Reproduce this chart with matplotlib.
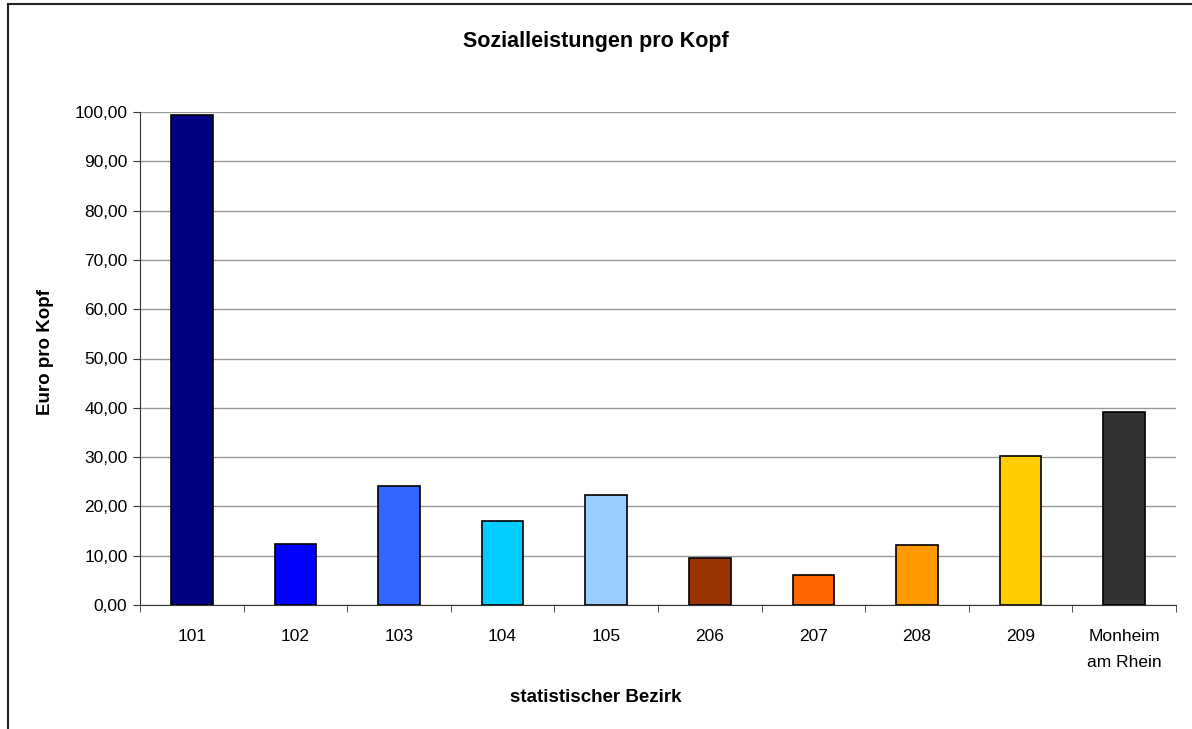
import matplotlib.pyplot as plt
from matplotlib.lines import Line2D
from matplotlib.ticker import FuncFormatter, FixedLocator

plt.rcParams["font.family"] = ["Liberation Sans", "DejaVu Sans"]

bezirke = ["101", "102", "103", "104", "105", "206", "207", "208", "209", "Monheim\nam Rhein"]
werte = [99.3, 12.4, 24.2, 17.0, 22.3, 9.5, 6.0, 12.1, 30.2, 39.1]
farben = ["#000080", "#0000FF", "#3366FF", "#00CCFF", "#99CCFF",
          "#993300", "#FF6600", "#FF9900", "#FFCC00", "#333333"]

fig = plt.figure(figsize=(11.92, 7.29), dpi=100)
ax = fig.add_axes([140 / 1192, 1 - 605 / 729, 1036 / 1192, 493 / 729])

x = range(len(bezirke))
ax.bar(x, werte, width=0.4, color=farben, edgecolor="black", linewidth=1.2, zorder=3)

ax.set_xlim(-0.5, len(bezirke) - 0.5)
ax.set_ylim(0, 100)
ax.set_yticks(range(0, 101, 10))
ax.yaxis.set_major_formatter(FuncFormatter(lambda v, p: f"{v:.2f}".replace(".", ",")))
ax.yaxis.grid(True, color="#999999", linewidth=1, zorder=0)

ax.set_xticks(list(x))
ax.set_xticklabels(bezirke, fontsize=12.5, linespacing=1.95)
ax.tick_params(axis="x", length=0, pad=17)
ax.xaxis.set_minor_locator(FixedLocator([i + 0.5 for i in range(-1, len(bezirke))]))
ax.tick_params(axis="x", which="minor", length=5, direction="out", color="#333333")
ax.tick_params(axis="y", labelsize=12.5, length=5, direction="out", color="#333333", pad=4)

for side in ["top", "right"]:
    ax.spines[side].set_visible(False)
ax.spines["left"].set_color("#333333")
ax.spines["bottom"].set_color("#333333")

fig.text(0.5, 1 - 42 / 729, "Sozialleistungen pro Kopf", ha="center", va="center",
         fontsize=15.5, fontweight="bold")
fig.text(0.5, 1 - 697 / 729, "statistischer Bezirk", ha="center", va="center",
         fontsize=13.5, fontweight="bold")
fig.text(46 / 1192, 1 - 352 / 729, "Euro pro Kopf", ha="center", va="center",
         rotation=90, fontsize=13.5, fontweight="bold")

# Rahmen (nur links und oben sichtbar)
fig.lines.append(Line2D([8 / 1192, 8 / 1192], [0, 1 - 4 / 729], transform=fig.transFigure,
                        color="#222222", linewidth=1.5))
fig.lines.append(Line2D([8 / 1192, 1], [1 - 4 / 729, 1 - 4 / 729], transform=fig.transFigure,
                        color="#222222", linewidth=1.5))

fig.savefig("out.png", dpi=100)
